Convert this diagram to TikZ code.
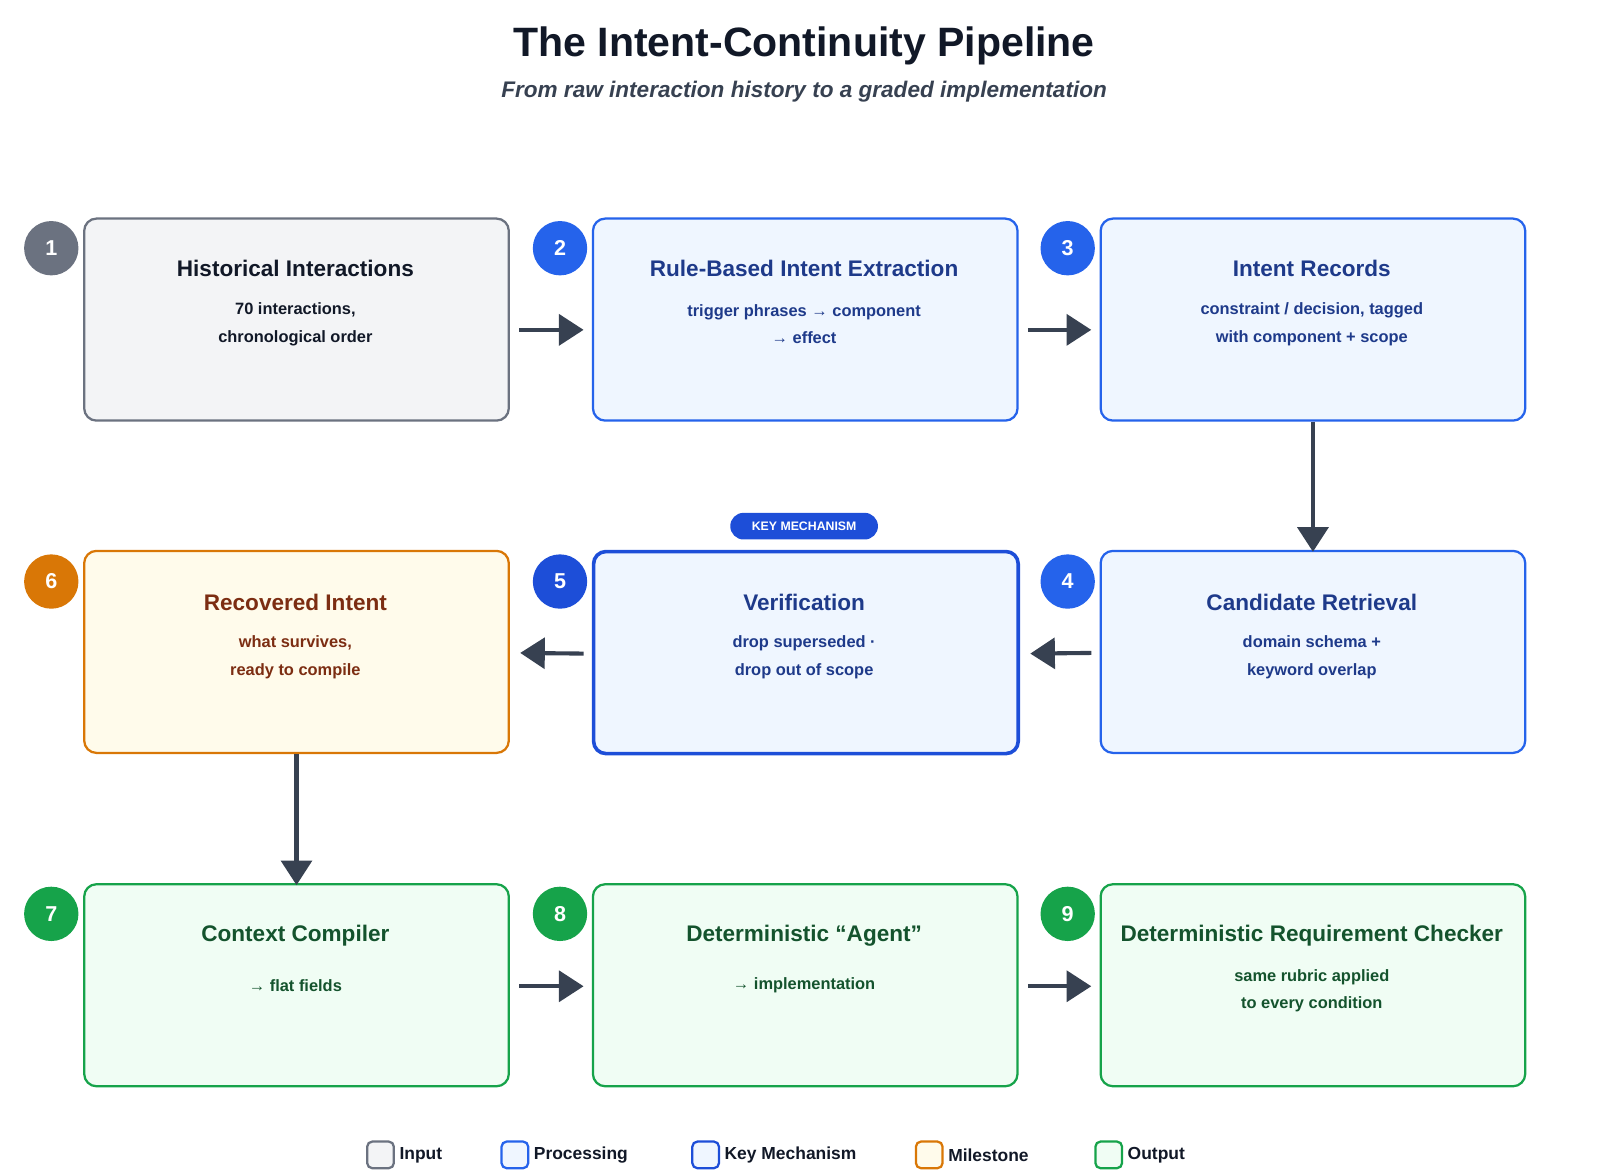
\documentclass[tikz,border=0pt]{standalone}
\usepackage{fontspec}
\setmainfont{Liberation Sans}
\usetikzlibrary{arrows.meta}
\definecolor{gB}{HTML}{6B7280}\definecolor{gF}{HTML}{F3F4F6}\definecolor{gT}{HTML}{111827}
\definecolor{bB}{HTML}{2563EB}\definecolor{bF}{HTML}{EFF6FF}\definecolor{bT}{HTML}{1E3A8A}
\definecolor{kB}{HTML}{1D4ED8}
\definecolor{oB}{HTML}{D97706}\definecolor{oF}{HTML}{FFFBEB}\definecolor{oT}{HTML}{7C2D12}
\definecolor{eB}{HTML}{16A34A}\definecolor{eF}{HTML}{F0FDF4}\definecolor{eT}{HTML}{14532D}
\definecolor{arr}{HTML}{374151}
\begin{document}
\begin{tikzpicture}[x=1pt,y=-1pt,
 box/.style={draw=#1B,fill=#1F,line width=2.2pt,rounded corners=12pt,minimum width=414pt,minimum height=197pt,anchor=north west,inner sep=0pt},
 badge/.style={circle,fill=#1,minimum size=53pt,inner sep=0pt,text=white,font=\bfseries\fontsize{21}{24}\selectfont},
 ttl/.style={font=\bfseries\fontsize{22}{26}\selectfont,text=#1},
 sub/.style={font=\bfseries\fontsize{16}{27}\selectfont,text=#1,align=center},
 ar/.style={draw=arr,line width=4pt,-{Triangle[length=24pt,width=30pt]}},
 leg/.style={draw=#1B,fill=#1F,line width=2.2pt,rounded corners=5pt,minimum size=26pt,inner sep=0pt},
 legt/.style={font=\bfseries\fontsize{17}{20}\selectfont,text=gT,anchor=west}]
\useasboundingbox (0,0) rectangle (1560,1140);
\node[font=\bfseries\fontsize{40}{46}\selectfont,text=gT] (title) at (784,45) {The Intent-Continuity Pipeline};
\node[font=\bfseries\itshape\fontsize{22}{26}\selectfont,text=arr] (subt) at (784,89) {From raw interaction history to a graded implementation};
% boxes
\node[box=g] (b1) at (81,212) {};
\node[box=b] (b2) at (577,212) {};
\node[box=b] (b3) at (1072,212) {};
\node[box=b] (b4) at (1072,536) {};
\node[box=b,draw=kB,line width=3.5pt] (b5) at (577,536) {};
\node[box=o] (b6) at (81,536) {};
\node[box=e] (b7) at (81,861) {};
\node[box=e] (b8) at (577,861) {};
\node[box=e] (b9) at (1072,861) {};
% text
\node[ttl=gT] (t1) at (288,262) {Historical Interactions};
\node[sub=gT] (s1) at (288,316) {70 interactions,\\chronological order};
\node[ttl=bT] (t2) at (784,262) {Rule-Based Intent Extraction};
\node[sub=bT] (s2) at (784,316) {trigger phrases → component\\→ effect};
\node[ttl=bT] (t3) at (1279,262) {Intent Records};
\node[sub=bT] (s3) at (1279,316) {constraint / decision, tagged\\with component + scope};
\node[ttl=bT] (t4) at (1279,587) {Candidate Retrieval};
\node[sub=bT] (s4) at (1279,641) {domain schema +\\keyword overlap};
\node[ttl=bT] (t5) at (784,587) {Verification};
\node[sub=bT] (s5) at (784,641) {drop superseded ·\\drop out of scope};
\node[ttl=oT] (t6) at (288,587) {Recovered Intent};
\node[sub=oT] (s6) at (288,641) {what survives,\\ready to compile};
\node[ttl=eT] (t7) at (288,912) {Context Compiler};
\node[sub=eT] (s7) at (288,961) {→ flat fields};
\node[ttl=eT] (t8) at (784,912) {Deterministic “Agent”};
\node[sub=eT] (s8) at (784,961) {→ implementation};
\node[ttl=eT] (t9) at (1279,912) {Deterministic Requirement Checker};
\node[sub=eT] (s9) at (1279,966) {same rubric applied\\to every condition};
% pill
\node[fill=kB,rounded corners=13pt,minimum width=144pt,minimum height=26pt,inner sep=0pt,text=white,font=\bfseries\fontsize{12}{14}\selectfont] (pill) at (784,513) {KEY MECHANISM};
% badges
\node[badge=gB] (n1) at (50,242) {1};
\node[badge=bB] (n2) at (546,242) {2};
\node[badge=bB] (n3) at (1041,242) {3};
\node[badge=bB] (n4) at (1041,567) {4};
\node[badge=kB] (n5) at (546,567) {5};
\node[badge=oB] (n6) at (50,567) {6};
\node[badge=eB] (n7) at (50,891) {7};
\node[badge=eB] (n8) at (546,891) {8};
\node[badge=eB] (n9) at (1041,891) {9};
% arrows
\draw[ar] ([xshift=9pt,yshift=-10pt]b1.east) -- ([xshift=-8pt,yshift=-10pt]b2.west);
\draw[ar] ([xshift=9pt,yshift=-10pt]b2.east) -- ([xshift=-8pt,yshift=-10pt]b3.west);
\draw[ar] (b3.south) -- ([yshift=-2pt]b4.north);
\draw[ar] ([xshift=-8pt,yshift=-1pt]b4.west) -- ([xshift=10pt,yshift=-1pt]b5.east);
\draw[ar] ([xshift=-8pt,yshift=-1pt]b5.west) -- ([xshift=10pt,yshift=-1pt]b6.east);
\draw[ar] (b6.south) -- ([yshift=-2pt]b7.north);
\draw[ar] ([xshift=9pt,yshift=-1pt]b7.east) -- ([xshift=-8pt,yshift=-1pt]b8.west);
\draw[ar] ([xshift=9pt,yshift=-1pt]b8.east) -- ([xshift=-8pt,yshift=-1pt]b9.west);
% legend
\node[leg=g] (l1) at (371,1126) {}; \node[legt] (lt1) at (386,1126) {Input};
\node[leg=b] (l2) at (502,1126) {}; \node[legt] (lt2) at (517,1126) {Processing};
\node[leg=b,draw=kB] (l3) at (688,1126) {}; \node[legt] (lt3) at (703,1126) {Key Mechanism};
\node[leg=o] (l4) at (906,1126) {}; \node[legt] (lt4) at (921,1126) {Milestone};
\node[leg=e] (l5) at (1081,1126) {}; \node[legt] (lt5) at (1096,1126) {Output};
\end{tikzpicture}
\end{document}
